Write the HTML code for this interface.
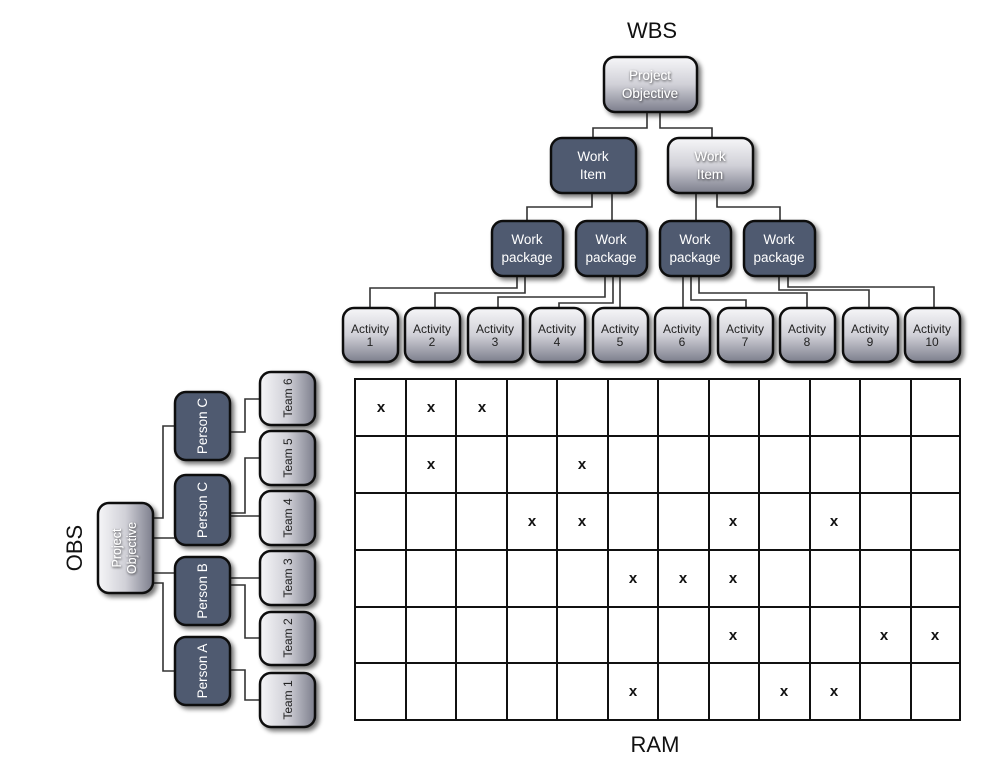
<!DOCTYPE html>
<html><head><meta charset="utf-8">
<style>
html,body{margin:0;padding:0;background:#fff;}
svg{display:block;font-family:"Liberation Sans",sans-serif;}
.ts{filter:url(#tsh);}
</style></head><body>
<svg width="1008" height="767" viewBox="0 0 1008 767" xmlns="http://www.w3.org/2000/svg">
<defs>
<linearGradient id="lt" x1="0" y1="0" x2="0" y2="1">
<stop offset="0" stop-color="#f6f6f8"/><stop offset="0.5" stop-color="#d0d0d7"/><stop offset="1" stop-color="#7c7e8c"/>
</linearGradient>
<linearGradient id="lth" x1="0" y1="0" x2="1" y2="0">
<stop offset="0" stop-color="#f6f6f8"/><stop offset="0.5" stop-color="#d0d0d7"/><stop offset="1" stop-color="#7c7e8c"/>
</linearGradient>
<filter id="sh" x="-20%" y="-20%" width="150%" height="150%">
<feGaussianBlur in="SourceAlpha" stdDeviation="2.5"/><feOffset dx="3" dy="3"/>
<feComponentTransfer><feFuncA type="linear" slope="0.55"/></feComponentTransfer>
<feMerge><feMergeNode/><feMergeNode in="SourceGraphic"/></feMerge>
</filter>
<filter id="tsh" x="-20%" y="-40%" width="140%" height="180%">
<feGaussianBlur in="SourceAlpha" stdDeviation="1.2"/><feOffset dx="0.5" dy="1"/>
<feComponentTransfer><feFuncA type="linear" slope="0.8"/></feComponentTransfer>
<feMerge><feMergeNode/><feMergeNode in="SourceGraphic"/></feMerge>
</filter>
</defs>

<g fill="none" stroke="#333" stroke-width="1.6">
<path d="M647 112V128H593V138"/>
<path d="M660 112V128H712V138"/>
<path d="M592 193V207H527V221"/>
<path d="M612 193V221"/>
<path d="M696 193V221"/>
<path d="M717 193V207H780V221"/>
<path d="M517 276V288H370V308"/>
<path d="M525 276V293H435V308"/>
<path d="M605 276V297H498V308"/>
<path d="M613 276V303H559V308"/>
<path d="M620 276V308"/>
<path d="M683 276V308"/>
<path d="M691 276V300H746V308"/>
<path d="M699 276V293H807V308"/>
<path d="M779 276V290H869V308"/>
<path d="M788 276V287H934V308"/>
<path d="M153 518H163V426H175"/>
<path d="M153 538H175"/>
<path d="M153 573H175"/>
<path d="M153 583H163V671H175"/>
<path d="M230 432H245V399H260"/>
<path d="M230 513H245V458H260"/>
<path d="M230 516H260"/>
<path d="M230 578H260"/>
<path d="M230 585H245V638H260"/>
<path d="M230 670H245V700H260"/>
</g>

<text x="652" y="38" font-size="22" text-anchor="middle" fill="#111">WBS</text>
<text x="655" y="752" font-size="22" text-anchor="middle" fill="#111">RAM</text>
<text transform="translate(82,548) rotate(-90)" font-size="22" text-anchor="middle" fill="#111">OBS</text>

<g filter="url(#sh)" stroke="#111" stroke-width="2.5">
<rect x="604" y="57" width="93" height="55" rx="11" fill="url(#lt)"/>
<rect x="551" y="138" width="85" height="55" rx="11" fill="#4f5a70"/>
<rect x="668" y="138" width="85" height="55" rx="11" fill="url(#lt)"/>
<rect x="492" y="221" width="71" height="55" rx="11" fill="#4f5a70"/>
<rect x="576" y="221" width="71" height="55" rx="11" fill="#4f5a70"/>
<rect x="660" y="221" width="71" height="55" rx="11" fill="#4f5a70"/>
<rect x="744" y="221" width="71" height="55" rx="11" fill="#4f5a70"/>
<rect x="343" y="308" width="55" height="54" rx="11" fill="url(#lt)"/>
<rect x="405" y="308" width="55" height="54" rx="11" fill="url(#lt)"/>
<rect x="468" y="308" width="55" height="54" rx="11" fill="url(#lt)"/>
<rect x="530" y="308" width="55" height="54" rx="11" fill="url(#lt)"/>
<rect x="593" y="308" width="55" height="54" rx="11" fill="url(#lt)"/>
<rect x="655" y="308" width="55" height="54" rx="11" fill="url(#lt)"/>
<rect x="718" y="308" width="55" height="54" rx="11" fill="url(#lt)"/>
<rect x="780" y="308" width="55" height="54" rx="11" fill="url(#lt)"/>
<rect x="843" y="308" width="55" height="54" rx="11" fill="url(#lt)"/>
<rect x="905" y="308" width="55" height="54" rx="11" fill="url(#lt)"/>
<rect x="98" y="503" width="55" height="90" rx="11" fill="url(#lth)"/>
<rect x="175" y="392" width="55" height="68" rx="11" fill="#4f5a70"/>
<rect x="175" y="475" width="55" height="70" rx="11" fill="#4f5a70"/>
<rect x="175" y="557" width="55" height="68" rx="11" fill="#4f5a70"/>
<rect x="175" y="637" width="55" height="68" rx="11" fill="#4f5a70"/>
<rect x="260" y="372" width="55" height="53" rx="11" fill="url(#lth)"/>
<rect x="260" y="431" width="55" height="54" rx="11" fill="url(#lth)"/>
<rect x="260" y="491" width="55" height="54" rx="11" fill="url(#lth)"/>
<rect x="260" y="551" width="55" height="54" rx="11" fill="url(#lth)"/>
<rect x="260" y="612" width="55" height="53" rx="11" fill="url(#lth)"/>
<rect x="260" y="673" width="55" height="54" rx="11" fill="url(#lth)"/>
</g>

<g font-size="13.5" fill="#fff" text-anchor="middle">
<g class="ts"><text x="650" y="80">Project</text><text x="650" y="98">Objective</text></g>
<text x="593" y="161">Work</text><text x="593" y="179">Item</text>
<g class="ts"><text x="710" y="161">Work</text><text x="710" y="179">Item</text></g>
<text x="527" y="244">Work</text><text x="527" y="262">package</text>
<text x="611" y="244">Work</text><text x="611" y="262">package</text>
<text x="695" y="244">Work</text><text x="695" y="262">package</text>
<text x="779" y="244">Work</text><text x="779" y="262">package</text>
</g>
<g font-size="12" fill="#222" text-anchor="middle">
<text x="370" y="333">Activity</text><text x="370" y="346">1</text>
<text x="432" y="333">Activity</text><text x="432" y="346">2</text>
<text x="495" y="333">Activity</text><text x="495" y="346">3</text>
<text x="557" y="333">Activity</text><text x="557" y="346">4</text>
<text x="620" y="333">Activity</text><text x="620" y="346">5</text>
<text x="682" y="333">Activity</text><text x="682" y="346">6</text>
<text x="745" y="333">Activity</text><text x="745" y="346">7</text>
<text x="807" y="333">Activity</text><text x="807" y="346">8</text>
<text x="870" y="333">Activity</text><text x="870" y="346">9</text>
<text x="932" y="333">Activity</text><text x="932" y="346">10</text>
</g>
<g font-size="12.5" fill="#fff" text-anchor="middle" class="ts">
<text transform="translate(121,548) rotate(-90)">Project</text>
<text transform="translate(136,548) rotate(-90)">Objective</text>
</g>
<g font-size="13.5" fill="#fff" text-anchor="middle">
<text transform="translate(207,426) rotate(-90)">Person C</text>
<text transform="translate(207,510) rotate(-90)">Person C</text>
<text transform="translate(207,591) rotate(-90)">Person B</text>
<text transform="translate(207,671) rotate(-90)">Person A</text>
</g>
<g font-size="12" fill="#222" text-anchor="middle">
<text transform="translate(292,398) rotate(-90)">Team 6</text>
<text transform="translate(292,458) rotate(-90)">Team 5</text>
<text transform="translate(292,518) rotate(-90)">Team 4</text>
<text transform="translate(292,578) rotate(-90)">Team 3</text>
<text transform="translate(292,638) rotate(-90)">Team 2</text>
<text transform="translate(292,700) rotate(-90)">Team 1</text>
</g>

<g stroke="#111" stroke-width="2" fill="none">
<rect x="355" y="379" width="605" height="341"/>
<path d="M406 379V720M456 379V720M507 379V720M557 379V720M608 379V720M658 379V720M709 379V720M759 379V720M810 379V720M860 379V720M911 379V720"/>
<path d="M355 436H960M355 493H960M355 550H960M355 607H960M355 663H960"/>
</g>
<g font-size="15" font-weight="bold" fill="#111" text-anchor="middle">
<text x="381" y="412">x</text><text x="431" y="412">x</text><text x="482" y="412">x</text>
<text x="431" y="469">x</text><text x="582" y="469">x</text>
<text x="532" y="526">x</text><text x="582" y="526">x</text><text x="733" y="526">x</text><text x="834" y="526">x</text>
<text x="633" y="583">x</text><text x="683" y="583">x</text><text x="733" y="583">x</text>
<text x="733" y="640">x</text><text x="884" y="640">x</text><text x="935" y="640">x</text>
<text x="633" y="696">x</text><text x="784" y="696">x</text><text x="834" y="696">x</text>
</g>
</svg>
</body></html>
